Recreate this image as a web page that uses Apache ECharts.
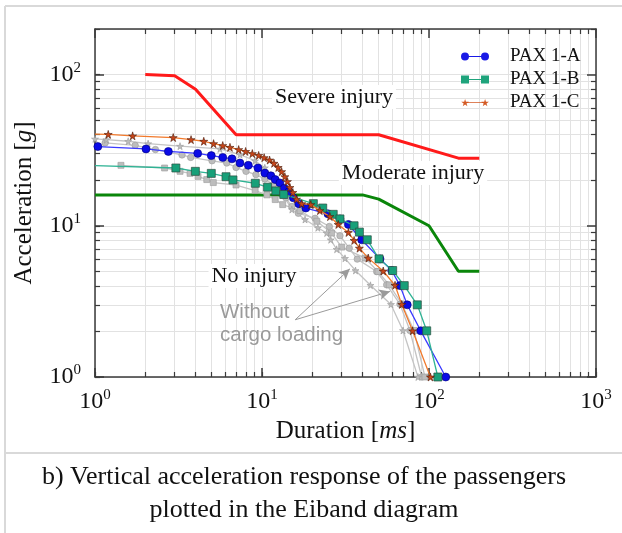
<!DOCTYPE html>
<html><head><meta charset="utf-8">
<script src="https://cdn.jsdelivr.net/npm/echarts@6/dist/echarts.min.js"></script>
<style>html,body{margin:0;padding:0;background:#fff}#c{width:622px;height:533px}</style>
</head><body><div id="c"></div>
<script>
// ---- Eiband limit curves ----
const severeX = [2, 3, 4, 7, 50, 150, 200];
const severeY = [100, 98, 80, 40, 40, 28, 28];
const moderateX = [1, 40, 50, 100, 150, 200];
const moderateY = [16, 16, 15, 10, 5, 5];

// ---- PAX 1-A (blue circles) ----
const paxAX = [1.04, 2.02, 2.75, 4.12, 4.97, 5.82, 6.61, 7.38, 8.28, 9.46, 10.4, 11.3, 12.0, 12.8, 13.6, 14.5, 15.4, 16.6, 18.3, 24.8, 29.3, 32.9, 39.5, 50.9, 59.8, 67.0, 74.1, 89.2, 126];
const paxAY = [33.4, 32.2, 31.0, 30.1, 29.1, 28.3, 27.7, 26.0, 25.1, 24.1, 22.3, 21.4, 20.2, 19.2, 17.7, 16.8, 15.3, 14.0, 13.1, 12.0, 11.1, 10.2, 8.08, 6.04, 5.06, 4.02, 3.00, 2.02, 1.0];

// ---- PAX 1-B (green squares) ----
const paxBX = [1.0, 3.05, 3.99, 4.97, 6.09, 6.70, 9.12, 10.8, 12.1, 13.5, 20.3, 23.1, 26.7, 29.3, 35.6, 38.3, 42.7, 50.2, 60.6, 71.1, 85.1, 96.9, 113];
const paxBY = [25.0, 24.1, 22.9, 22.2, 21.1, 20.1, 19.1, 18.0, 17.0, 16.1, 14.0, 13.1, 11.9, 11.1, 10.0, 9.08, 8.08, 6.04, 5.06, 4.02, 3.00, 2.02, 1.0];

// ---- PAX 1-C (orange stars) ----
const paxCX = [1.0, 1.20, 1.68, 2.94, 3.76, 4.48, 5.13, 5.82, 6.43, 7.25, 7.98, 8.75, 9.55, 10.3, 11.1, 11.8, 12.5, 13.1, 13.7, 14.2, 14.7, 15.3, 16.1, 17.3, 19.6, 22.2, 25.5, 28.6, 32.9, 35.6, 38.3, 43.3, 53.2, 62.6, 68.7, 79.8, 102];
const paxCY = [40.3, 40.2, 39.3, 38.3, 37.1, 36.2, 34.9, 33.9, 33.0, 31.9, 31.0, 30.0, 29.2, 28.2, 27.2, 25.9, 24.3, 22.8, 21.1, 19.6, 17.9, 16.6, 15.0, 14.0, 13.8, 12.6, 11.5, 10.2, 9.03, 8.0, 7.11, 6.11, 5.02, 4.04, 3.02, 2.02, 1.0];

// ---- Without cargo loading (grey) ----
const grayAX = [1.15, 1.74, 2.30, 3.32, 3.74, 5.02, 6.15, 6.99, 8.02, 9.20, 10.4, 11.7, 12.8, 13.9, 15.1, 16.5, 20.8, 25.3, 29.3, 33.3, 37.2, 48.6, 55.8, 67.0, 76.9, 90.4];
const grayAY = [35.3, 34.0, 31.9, 29.4, 28.3, 26.9, 26.0, 24.3, 22.9, 21.8, 20.4, 18.7, 17.0, 15.3, 13.4, 12.1, 11.2, 9.89, 8.59, 7.11, 6.02, 4.98, 4.07, 3.03, 2.03, 1.0];
const grayBX = [1.43, 2.61, 3.23, 3.71, 4.14, 4.67, 5.11, 6.99, 9.1, 10.7, 12.0, 13.3, 16.9, 21.3, 26.1, 30.0, 41.4, 49.5, 57.8, 68.9, 81.3, 94.6];
const grayBY = [25.1, 24.1, 22.9, 22.2, 21.2, 20.2, 19.3, 18.6, 17.1, 16.0, 14.9, 13.8, 12.6, 10.7, 8.95, 7.23, 6.11, 4.98, 4.07, 3.03, 2.03, 1.0];
const grayCX = [1.0, 1.17, 1.58, 2.08, 3.23, 5.6, 7.38, 9.08, 10.4, 12.0, 13.4, 15.1, 18.1, 21.6, 24.4, 25.8, 28.0, 31.4, 36.3, 44.6, 59.2, 69.9, 85.9];
const grayCY = [37.5, 37.1, 36.2, 34.9, 33.6, 32.2, 29.5, 26.9, 24.2, 20.2, 16.0, 12.8, 11.0, 9.7, 8.95, 8.08, 6.99, 6.09, 5.06, 4.04, 3.02, 2.03, 1.0];

// ---- arrows (annotation) ----
const arrowStart = [15.8, 2.39];
const arrowEnd1 = [33.6, 5.19];
const arrowEnd2 = [58.4, 3.68];

// ---- ticks ----
const xMajor = [1, 10, 100, 1000];
const xMinor = [2,3,4,5,6,7,8,9,20,30,40,50,60,70,80,90,200,300,400,500,600,700,800,900];
const yMajor = [1, 10, 100];
const yMinor = [2,3,4,5,6,7,8,9,20,30,40,50,60,70,80,90,200];

const SERIF = '"Liberation Serif","DejaVu Serif",serif';
const SANS = '"Liberation Sans","DejaVu Sans",sans-serif';
const starPath = 'path://M50,0 L61,35 L98,35 L68,57 L79,91 L50,70 L21,91 L32,57 L2,35 L39,35 Z';
const iconCircle = 'path://M0,4A4,4,0,1,1,8,4A4,4,0,1,1,0,4Z M20,4A4,4,0,1,1,28,4A4,4,0,1,1,20,4Z M7,3.4H21V4.6H7Z';
const iconSquare = 'path://M0,0H8V8H0Z M20,0H28V8H20Z M7,3.4H21V4.6H7Z';
const iconStar = 'path://M4,0.4L4.88,3.2L7.84,3.2L5.44,4.96L6.32,7.68L4,6L1.68,7.68L2.56,4.96L0.16,3.2L3.12,3.2Z M24,0.4L24.88,3.2L27.84,3.2L25.44,4.96L26.32,7.68L24,6L21.68,7.68L22.56,4.96L20.16,3.2L23.12,3.2Z M6,3.7H22V4.5H6Z M0,0H0.01V8H0Z';

function pairs(xs, ys) { return xs.map((x, i) => [x, ys[i]]); }
function pairsHideFirst(xs, ys) {
  return xs.map((x, i) => i === 0 ? { value: [x, ys[i]], symbol: 'none' } : [x, ys[i]]);
}
const supFmt = v => '{b|10}{s|' + Math.round(Math.log10(v)) + '}';
const tickRich = {
  b: { fontFamily: SERIF, fontSize: 24, color: '#111' },
  s: { fontFamily: SERIF, fontSize: 15, color: '#111', padding: [0, 0, 13, 0] }
};
const AX = '#3a3a3a';
const GRIDC = '#e2e2e2';
const nameRich = {
  r: { fontFamily: SERIF, fontSize: 25, color: '#111' },
  i: { fontFamily: SERIF, fontSize: 25, fontStyle: 'italic', color: '#111' }
};

function xAxes() {
  const base = { type: 'log', logBase: 10, min: 1, max: 1000, gridIndex: 0 };
  return [
    Object.assign({}, base, {
      position: 'bottom',
      axisLine: { show: true, onZero: false, lineStyle: { color: AX, width: 1.5 } },
      axisTick: { show: true, inside: true, length: 9, customValues: xMajor, lineStyle: { color: AX, width: 1.5 } },
      axisLabel: { show: true, customValues: xMajor, formatter: supFmt, rich: tickRich, margin: 11 },
      splitLine: { show: false },
      name: '{r|Duration [}{i|ms}{r|]}',
      nameLocation: 'middle', nameGap: 42,
      nameTextStyle: { rich: nameRich }
    }),
    Object.assign({}, base, {
      position: 'bottom',
      axisLine: { show: false },
      axisTick: { show: true, inside: true, length: 5, customValues: xMinor.concat(xMajor), lineStyle: { color: AX, width: 1.2 } },
      axisLabel: { show: false },
      splitLine: { show: true, lineStyle: { color: GRIDC, width: 1 } }
    }),
    Object.assign({}, base, {
      position: 'top',
      axisLine: { show: true, onZero: false, lineStyle: { color: AX, width: 1.5 } },
      axisTick: { show: true, inside: true, length: 9, customValues: xMajor, lineStyle: { color: AX, width: 1.5 } },
      axisLabel: { show: false },
      splitLine: { show: false }
    }),
    Object.assign({}, base, {
      position: 'top',
      axisLine: { show: false },
      axisTick: { show: true, inside: true, length: 5, customValues: xMinor, lineStyle: { color: AX, width: 1.2 } },
      axisLabel: { show: false },
      splitLine: { show: false }
    })
  ];
}
function yAxes() {
  const base = { type: 'log', logBase: 10, min: 1, max: 200, gridIndex: 0 };
  return [
    Object.assign({}, base, {
      position: 'left',
      axisLine: { show: true, onZero: false, lineStyle: { color: AX, width: 1.5 } },
      axisTick: { show: true, inside: true, length: 9, customValues: yMajor, lineStyle: { color: AX, width: 1.5 } },
      axisLabel: { show: true, customValues: yMajor, formatter: supFmt, rich: tickRich, margin: 14 },
      splitLine: { show: false },
      name: '{r|Acceleration [}{i|g}{r|]}',
      nameLocation: 'middle', nameGap: 58, nameRotate: 90,
      nameTextStyle: { rich: nameRich }
    }),
    Object.assign({}, base, {
      position: 'left',
      axisLine: { show: false },
      axisTick: { show: true, inside: true, length: 5, customValues: yMinor.concat(yMajor), lineStyle: { color: AX, width: 1.2 } },
      axisLabel: { show: false },
      splitLine: { show: true, lineStyle: { color: GRIDC, width: 1 } }
    }),
    Object.assign({}, base, {
      position: 'right',
      axisLine: { show: true, onZero: false, lineStyle: { color: AX, width: 1.5 } },
      axisTick: { show: true, inside: true, length: 9, customValues: yMajor, lineStyle: { color: AX, width: 1.5 } },
      axisLabel: { show: false },
      splitLine: { show: false }
    }),
    Object.assign({}, base, {
      position: 'right',
      axisLine: { show: false },
      axisTick: { show: true, inside: true, length: 5, customValues: yMinor, lineStyle: { color: AX, width: 1.2 } },
      axisLabel: { show: false },
      splitLine: { show: false }
    })
  ];
}

function limitSeries(name, xs, ys, color) {
  return { name, type: 'line', data: pairs(xs, ys), symbol: 'none', lineStyle: { color, width: 3 }, itemStyle: { color }, z: 2, silent: true, animation: false };
}
function graySeries(name, xs, ys, symbol, size) {
  return {
    name, type: 'line', data: pairs(xs, ys), symbol, symbolSize: size,
    lineStyle: { color: '#c4c4c4', width: 1.3 },
    itemStyle: { color: '#bdbdbd', borderColor: '#9a9a9a', borderWidth: 0.6 },
    z: 3, animation: false, clip: true
  };
}

const chart = echarts.init(document.getElementById('c'), null, { renderer: 'canvas' });
chart.setOption({
  backgroundColor: '#fff',
  animation: false,
  grid: { left: 95, right: 26, top: 29, bottom: 156, containLabel: false },
  xAxis: xAxes(),
  yAxis: yAxes(),
  legend: {
    orient: 'vertical', left: 456, top: 42, itemWidth: 28, itemHeight: 8, itemGap: 4,
    data: [
      { name: 'PAX 1-A', icon: iconCircle, itemStyle: { color: '#1a1ae6', borderWidth: 0 } },
      { name: 'PAX 1-B', icon: iconSquare, itemStyle: { color: '#1fa47c', borderWidth: 0 } },
      { name: 'PAX 1-C', icon: iconStar, itemStyle: { color: '#d45a24', borderWidth: 0 } }
    ],
    textStyle: { fontFamily: SERIF, fontSize: 19, color: '#111', padding: [0, 0, 0, 16] }
  },
  series: [
    limitSeries('severe', severeX, severeY, '#ff1a1a'),
    limitSeries('moderate', moderateX, moderateY, '#0a860a'),
    Object.assign(graySeries('grayA', grayAX, grayAY, 'circle', 6.5), {
      markLine: {
        silent: true, symbol: ['none', 'arrow'], symbolSize: [8, 11],
        lineStyle: { color: '#9a9a9a', width: 1, type: 'solid' }, label: { show: false },
        data: [
          [{ coord: arrowStart }, { coord: arrowEnd1 }],
          [{ coord: arrowStart }, { coord: arrowEnd2 }]
        ]
      }
    }),
    graySeries('grayB', grayBX, grayBY, 'rect', 6),
    graySeries('grayC', grayCX, grayCY, starPath, 7),
    {
      name: 'PAX 1-A', type: 'line', data: pairs(paxAX, paxAY), symbol: 'circle', symbolSize: 8,
      lineStyle: { color: '#3a3aff', width: 1.3 },
      itemStyle: { color: '#0a0ae6', borderColor: '#00007a', borderWidth: 0.6 }, z: 4
    },
    {
      name: 'PAX 1-B', type: 'line', data: pairsHideFirst(paxBX, paxBY), symbol: 'rect', symbolSize: 8,
      lineStyle: { color: '#2fb394', width: 1.3 },
      itemStyle: { color: '#17a079', borderColor: '#2d4d40', borderWidth: 0.7 }, z: 5
    },
    {
      name: 'PAX 1-C', type: 'line', data: pairsHideFirst(paxCX, paxCY), symbol: starPath, symbolSize: 8,
      lineStyle: { color: '#f27a2c', width: 1.3 },
      itemStyle: { color: '#c8461a', borderColor: '#4a1a08', borderWidth: 0.6 }, z: 6
    }
  ],
  graphic: [
    { type: 'line', shape: { x1: 5, y1: 6, x2: 622, y2: 6 }, style: { stroke: '#d9d9d9', lineWidth: 2 }, silent: true },
    { type: 'line', shape: { x1: 5, y1: 6, x2: 5, y2: 533 }, style: { stroke: '#d9d9d9', lineWidth: 2 }, silent: true },
    { type: 'line', shape: { x1: 5, y1: 453, x2: 622, y2: 453 }, style: { stroke: '#d9d9d9', lineWidth: 2 }, silent: true },
    { type: 'text', z: 10, style: { text: 'Severe injury', x: 334, y: 97, align: 'center', verticalAlign: 'middle', font: '22px ' + SERIF, fill: '#111', backgroundColor: '#fff', padding: [1, 3] } },
    { type: 'text', z: 10, style: { text: 'Moderate injury', x: 413, y: 173, align: 'center', verticalAlign: 'middle', font: '22px ' + SERIF, fill: '#111', backgroundColor: '#fff', padding: [1, 3] } },
    { type: 'text', z: 10, style: { text: 'No injury', x: 254, y: 276, align: 'center', verticalAlign: 'middle', font: '22px ' + SERIF, fill: '#111', backgroundColor: '#fff', padding: [1, 3] } },
    { type: 'text', z: 10, style: { text: 'Without', x: 220, y: 312, align: 'left', verticalAlign: 'middle', font: '20.5px ' + SANS, fill: '#9a9a9a' } },
    { type: 'text', z: 10, style: { text: 'cargo loading', x: 220, y: 335, align: 'left', verticalAlign: 'middle', font: '20.5px ' + SANS, fill: '#9a9a9a' } },
    { type: 'text', style: { text: 'b) Vertical acceleration response of the passengers', x: 304, y: 477, align: 'center', verticalAlign: 'middle', font: '26px ' + SERIF, fill: '#111' } },
    { type: 'text', style: { text: 'plotted in the Eiband diagram', x: 304, y: 510, align: 'center', verticalAlign: 'middle', font: '26px ' + SERIF, fill: '#111' } }
  ]
});
</script>
</body></html>
